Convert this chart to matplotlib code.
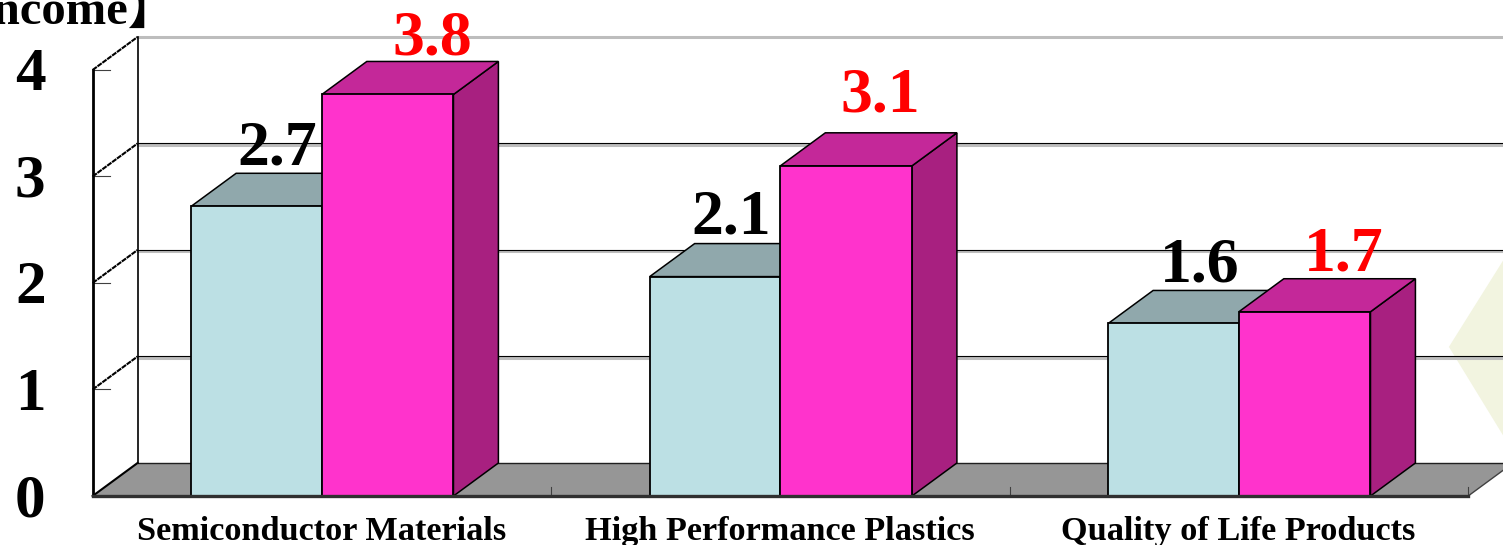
import matplotlib
matplotlib.use('Agg')
import matplotlib.pyplot as plt

plt.rcParams['font.family'] = ['Liberation Serif', 'Noto Sans CJK JP', 'DejaVu Sans']
plt.rcParams['font.weight'] = 'bold'

# Datos
categorias = ['Semiconductor Materials', 'High Performance Plastics', 'Quality of Life Products']
valores_a = [2.72, 2.06, 1.62]
valores_b = [3.77, 3.10, 1.73]
etiquetas_a = ['2.7', '2.1', '1.6']
etiquetas_b = ['3.8', '3.1', '1.7']
ticks_y = [0, 1, 2, 3, 4]

# Ajustes finos de cada etiqueta (x relativo a la categoria, y sobre el valor)
ajuste_a = [(-0.098, 0.265), (-0.107, 0.275), (-0.085, 0.26)]
ajuste_b = [(0.24, 0.24), (0.218, 0.375), (0.229, 0.26)]

# Profundidad del falso 3D, en unidades de datos
DX = 0.098
DY = 0.31
ANCHO_A = 0.285
ANCHO_B = 0.287
X0, X1 = -0.5, 2.5

fig = plt.figure(figsize=(15.03, 5.45), dpi=100)
ax = fig.add_axes([0, 0, 1, 1])
ax.set_xlim(-0.702, 2.576)
ax.set_ylim(-0.46, 4.657)
ax.axis('off')

# Forma palida del fondo, a la derecha
ax.fill([2.458, 2.576, 2.576], [1.40, 2.21, 0.57], color='#f2f4e0', lw=0, zorder=0)

# Suelo y paredes
ax.fill([X0, X0 + DX, X1 + DX, X1], [0, DY, DY, 0], facecolor='#969696', edgecolor='none', zorder=1)
ax.plot([X0 + DX, X1 + DX], [DY, DY], color='#202020', lw=1.0, zorder=1.5)
ax.plot([X0, X0 + DX], [0, DY], color='black', lw=1.5, zorder=2)
ax.plot([X1, X1 + DX], [0, DY], color='#404040', lw=1, zorder=2)

for t in ticks_y[1:]:
    if t < 4:
        ax.plot([X0 + DX, X1 + DX], [t + DY - 0.012, t + DY - 0.012], color='#bdbdbd', lw=2.2, zorder=1.2)
        ax.plot([X0 + DX, X1 + DX], [t + DY + 0.004, t + DY + 0.004], color='black', lw=0.8, zorder=1.3)
    else:
        ax.plot([X0 + DX, X1 + DX], [t + DY, t + DY], color='#bdbdbd', lw=2.2, zorder=1.2)
    ax.plot([X0, X0 + DX], [t, t + DY], color='black', lw=1.5, ls=(0, (2.5, 0.4)), zorder=2)
    ax.plot([X0, X0 + 0.037], [t, t], color='#404040', lw=0.8, zorder=2)

ax.plot([X0 + DX, X0 + DX], [DY, 4 + DY], color='black', lw=1.2, zorder=2)
ax.plot([X0, X0], [0, 4], color='black', lw=2, zorder=2)


def barra(x, ancho, alto, frente, arriba, lado):
    ax.fill([x + ancho, x + ancho + DX, x + ancho + DX, x + ancho], [0, DY, alto + DY, alto],
            facecolor=lado, edgecolor='black', lw=1.1, zorder=3)
    ax.fill([x, x + DX, x + ancho + DX, x + ancho], [alto, alto + DY, alto + DY, alto],
            facecolor=arriba, edgecolor='black', lw=1.1, zorder=3)
    ax.fill([x, x + ancho, x + ancho, x], [0, 0, alto, alto],
            facecolor=frente, edgecolor='black', lw=1.3, zorder=3)


for i in range(len(categorias)):
    barra(i - ANCHO_A, ANCHO_A, valores_a[i], '#bce0e4', '#90a8ac', '#7f9da1')
    barra(i, ANCHO_B, valores_b[i], '#ff33cc', '#c42899', '#a82080')

# Eje inferior y sus marcas
ax.plot([X0, X1], [0, 0], color='#303030', lw=2.4, zorder=4)
for m in [0.5, 1.5, 2.5]:
    ax.plot([m, m], [0, 0.08], color='#404040', lw=0.8, zorder=2)

# Textos
for t in ticks_y:
    ax.text(-0.636, t - 0.05, str(t), fontsize=44, ha='center', va='center', color='black', zorder=5)

for i in range(len(categorias)):
    ax.text(i - 0.001, -0.41, categorias[i], fontsize=24.7, ha='center', va='baseline', color='black', zorder=5)
    ax.text(i + ajuste_a[i][0], valores_a[i] + ajuste_a[i][1], etiquetas_a[i], fontsize=46, ha='center', va='bottom', color='black', zorder=5)
    ax.text(i + ajuste_b[i][0], valores_b[i] + ajuste_b[i][1], etiquetas_b[i], fontsize=46, ha='center', va='bottom', color='red', zorder=5)

ax.text(-0.317, 4.43, 'Income】', fontsize=35, ha='right', va='baseline', color='black', zorder=5)

fig.savefig('out.png', dpi=100, facecolor='white')
